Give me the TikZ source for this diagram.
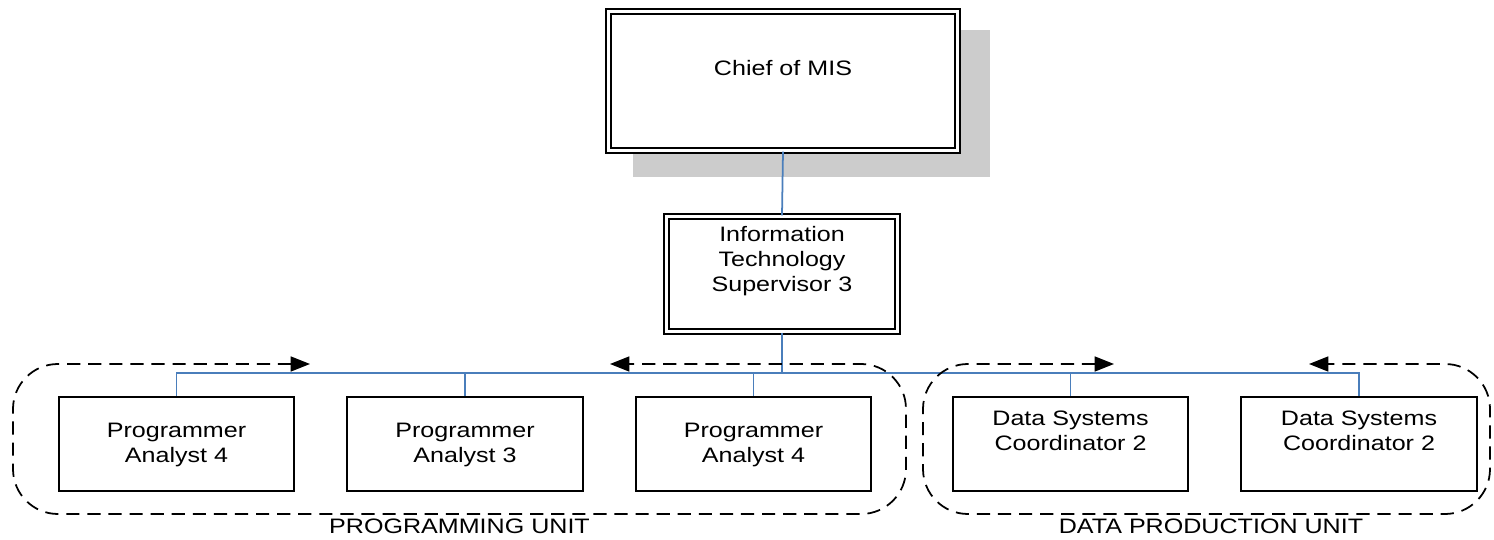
\documentclass[tikz,border=0pt]{standalone}
\usepackage{fontspec}
\setmainfont{Liberation Sans}[FakeStretch=1.2]
\usetikzlibrary{arrows.meta}
\definecolor{orgblue}{RGB}{74,126,187}
\definecolor{shadowgray}{RGB}{204,204,204}

\begin{document}
\begin{tikzpicture}[x=0.02cm,y=-0.02cm,
                    font=\fontsize{11.9}{14}\selectfont,
                    title box/.style={rectangle,draw,fill=white,line width=1.2pt,
                      double,double distance=1.5pt},
                    staff box/.style={rectangle,draw,fill=white,line width=0.9pt,
                      minimum width=4.71cm,minimum height=1.89cm},
                    box text/.style={align=center,inner sep=0pt},
                    shadow box/.style={rectangle,fill=shadowgray,inner sep=0pt},
                    org line/.style={draw=orgblue,line width=1pt},
                    unit frame/.style={dash pattern=on 7.5pt off 4.5pt,line width=1pt,
                      rounded corners=0.9cm,
                      {Triangle[length=11pt,width=8.5pt]}-{Triangle[length=11pt,width=8.5pt]}},
                    unit label/.style={inner sep=0pt}
                   ]
   \useasboundingbox (0,0) rectangle (1494,540);

   % top of the chart
   \node[shadow box,minimum width=7.14cm,minimum height=2.94cm] (chief shadow) at (811.5,103.5) {};
   \node[title box,minimum width=6.98cm,minimum height=2.78cm] (chief) at (783,81) {};
   \node[box text] (chief text) at (783,68.5) {Chief of MIS};

   \node[title box,minimum width=4.62cm,minimum height=2.30cm] (it) at (782,274) {};
   \node[box text] (it text) at (782,261) {Information\\Technology\\Supervisor 3};

   % staff
   \node[staff box] (pa1) at (176.5,444) {};
   \node[staff box] (pa2) at (465,444) {};
   \node[staff box] (pa3) at (753.5,444) {};
   \node[staff box] (dsc1) at (1070.5,444) {};
   \node[staff box] (dsc2) at (1359,444) {};

   \node[box text] (pa1 text) at (176.5,445) {Programmer\\Analyst 4};
   \node[box text] (pa2 text) at (465,445) {Programmer\\Analyst 3};
   \node[box text] (pa3 text) at (753.5,445) {Programmer\\Analyst 4};
   \node[box text] (dsc1 text) at (1070.5,431) {Data Systems\\Coordinator 2};
   \node[box text] (dsc2 text) at (1359,431) {Data Systems\\Coordinator 2};

   % reporting lines
   \coordinate (bus) at (782,373);
   \draw[org line] (chief.south) -- (it.north);
   \draw[org line] (it.south) -- (bus);
   \foreach \n in {pa1,pa2,pa3,dsc1,dsc2}
     \draw[org line] (bus) -| (\n.north);

   % units
   \draw[unit frame] (310,364) -- (13,364) -- (13,514) -- (906,514) -- (906,364) -- (610,364);
   \draw[unit frame] (1114,364) -- (923,364) -- (923,514) -- (1490,514) -- (1490,364) -- (1309,364);

   \node[unit label] (prog unit) at (459.5,526) {PROGRAMMING UNIT};
   \node[unit label] (data unit) at (1211,526) {DATA PRODUCTION UNIT};
\end{tikzpicture}
\end{document}
